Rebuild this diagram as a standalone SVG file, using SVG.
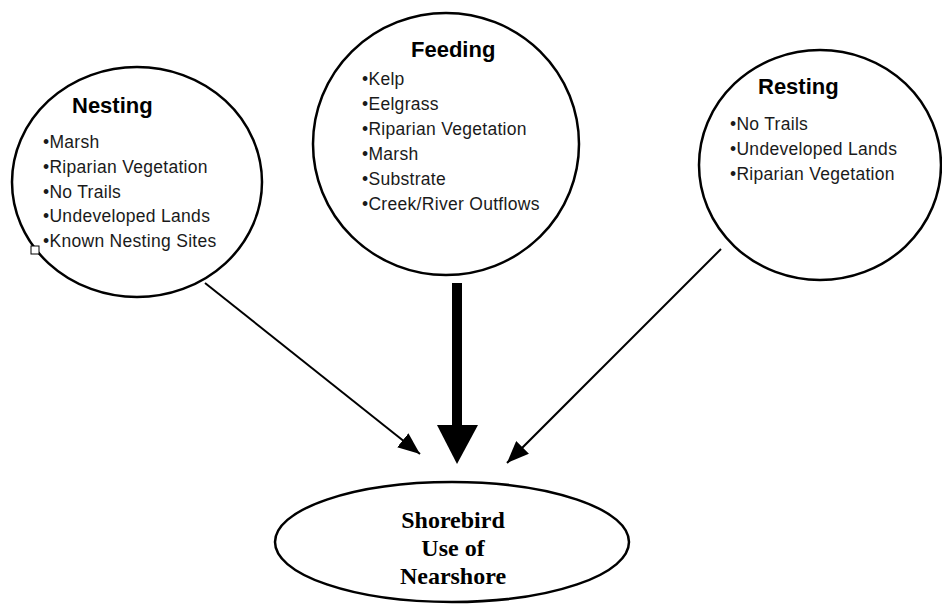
<svg xmlns="http://www.w3.org/2000/svg" width="942" height="604" viewBox="0 0 942 604">
  <style>
    .node { fill: #ffffff; stroke: #000000; stroke-width: 2.5; }
    .title { font-family: "Liberation Sans", Arial, sans-serif; font-weight: bold; font-size: 22px; fill: #000; }
    .item { font-family: "Liberation Sans", Arial, sans-serif; font-size: 17.5px; letter-spacing: 0.3px; fill: #1a1a1a; }
    .center { font-family: "Liberation Serif", "Times New Roman", serif; font-weight: bold; font-size: 24px; fill: #000; text-anchor: middle; }
    .link { stroke: #000; stroke-width: 2; fill: none; }
  </style>
  <defs>
    <marker id="head" markerUnits="userSpaceOnUse" viewBox="0 0 22 18" refX="22" refY="9" markerWidth="22" markerHeight="18" orient="auto">
      <path d="M0,0 L22,9 L0,18 Z" fill="#000"/>
    </marker>
  </defs>
  <rect width="942" height="604" fill="#ffffff"/>

  <g id="connectors">
    <line class="link" x1="205" y1="283" x2="420" y2="454" marker-end="url(#head)"/>
    <line class="link" x1="721" y1="249" x2="507" y2="463" marker-end="url(#head)"/>
    <rect x="452" y="283" width="10" height="143" fill="#000"/>
    <path d="M437,425 L478,425 L457,464 Z" fill="#000"/>
  </g>

  <g id="nesting">
    <ellipse class="node" cx="137" cy="182" rx="125" ry="115"/>
    <rect x="31" y="246" width="8" height="8" fill="#fff" stroke="#000" stroke-width="1"/>
    <text class="title" x="72" y="113">Nesting</text>
    <text class="item" x="43" y="148">•Marsh</text>
    <text class="item" x="43" y="173">•Riparian Vegetation</text>
    <text class="item" x="43" y="198">•No Trails</text>
    <text class="item" x="43" y="222">•Undeveloped Lands</text>
    <text class="item" x="43" y="247">•Known Nesting Sites</text>
  </g>

  <g id="feeding">
    <ellipse class="node" cx="446" cy="144" rx="133" ry="131"/>
    <text class="title" x="411" y="57">Feeding</text>
    <text class="item" x="362" y="85">•Kelp</text>
    <text class="item" x="362" y="110">•Eelgrass</text>
    <text class="item" x="362" y="135">•Riparian Vegetation</text>
    <text class="item" x="362" y="160">•Marsh</text>
    <text class="item" x="362" y="185">•Substrate</text>
    <text class="item" x="362" y="210">•Creek/River Outflows</text>
  </g>

  <g id="resting">
    <ellipse class="node" cx="820" cy="165" rx="121" ry="115"/>
    <text class="title" x="758" y="94">Resting</text>
    <text class="item" x="730" y="130">•No Trails</text>
    <text class="item" x="730" y="155">•Undeveloped Lands</text>
    <text class="item" x="730" y="180">•Riparian Vegetation</text>
  </g>

  <g id="shorebird">
    <ellipse class="node" cx="452" cy="542" rx="177" ry="60"/>
    <text class="center" x="453" y="528">Shorebird</text>
    <text class="center" x="453" y="556">Use of</text>
    <text class="center" x="453" y="584">Nearshore</text>
  </g>
</svg>
